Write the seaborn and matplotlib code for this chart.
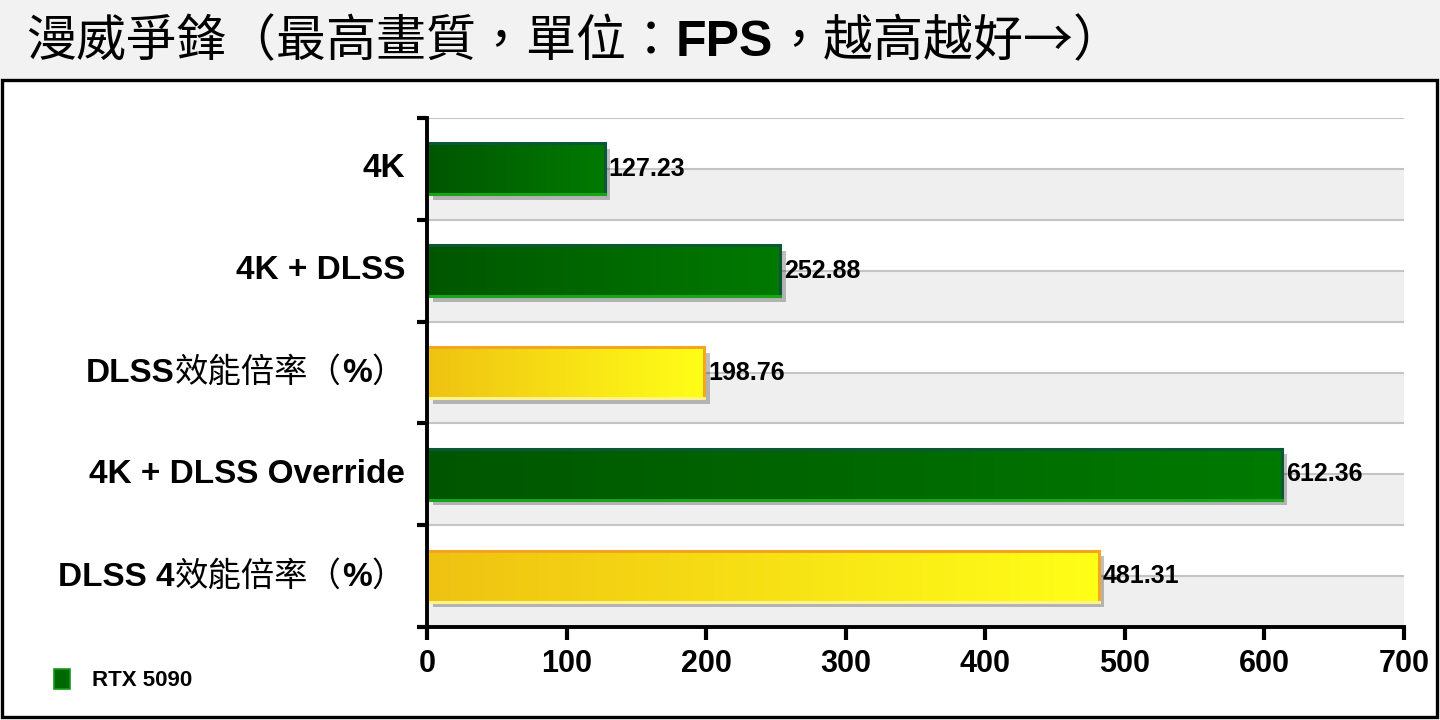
import matplotlib
matplotlib.use("Agg")
import matplotlib.pyplot as plt
import seaborn as sns
import numpy as np
import pandas as pd
from matplotlib.colors import LinearSegmentedColormap
from matplotlib.patches import Rectangle, Patch
from matplotlib.offsetbox import TextArea, HPacker, AnchoredOffsetbox
from matplotlib.transforms import blended_transform_factory
from matplotlib import patheffects as pe

# data
categories = ["4K", "4K + DLSS", "DLSS效能倍率（%）", "4K + DLSS Override", "DLSS 4效能倍率（%）"]
values = [127.23, 252.88, 198.76, 612.36, 481.31]
kinds = ["fps", "fps", "ratio", "fps", "ratio"]
x_ticks = [0, 100, 200, 300, 400, 500, 600, 700]
title = "漫威爭鋒（最高畫質，單位：FPS，越高越好→）"
legend_label = "RTX 5090"

sns.set_style("white")
CJK = ["Noto Sans CJK TC", "DejaVu Sans"]
LAT = ["Liberation Sans", "DejaVu Sans"]
plt.rcParams["font.family"] = LAT
plt.rcParams["text.color"] = "black"
plt.rcParams["xtick.color"] = "black"
plt.rcParams["ytick.color"] = "black"

# colours: gradient left/right, edge dark (top/right) and light (left/bottom)
grad_cols = {"fps": ("#005600", "#007a00"), "ratio": ("#efc212", "#ffff18")}
edge_cols = {"fps": ("#0c5836", "#18a418"), "ratio": ("#f4a620", "#fff38a")}


def runs(text):
    """split a string into latin / cjk pieces"""
    out = []
    for ch in text:
        lat = ord(ch) < 0x2000
        if out and out[-1][1] == lat:
            out[-1][0] += ch
        else:
            out.append([ch, lat])
    return out


def packed(text, size):
    areas = []
    for piece, lat in runs(text):
        props = dict(family=LAT if lat else CJK,
                     fontweight="bold" if lat else "normal",
                     fontsize=size, color="black")
        areas.append(TextArea(piece, textprops=props))
    return HPacker(children=areas, align="baseline", pad=0, sep=0)


df = pd.DataFrame({"setting": categories, "fps": values, "kind": kinds})

fig = plt.figure(figsize=(14.4, 7.2), dpi=100)
fig.patch.set_facecolor("white")

# title band and outer frame
fig.add_artist(Rectangle((0, 1 - 80 / 720), 1, 80 / 720, transform=fig.transFigure,
                         facecolor="#f2f2f2", edgecolor="none", zorder=0))
fig.add_artist(Rectangle((2 / 1440, 3 / 720), 1435 / 1440, 637 / 720,
                         transform=fig.transFigure, facecolor="none",
                         edgecolor="black", lw=2.4, zorder=1))
fig.add_artist(AnchoredOffsetbox(loc="center left", child=packed(title, 36),
                                 bbox_to_anchor=(26 / 1440, 1 - 42 / 720),
                                 bbox_transform=fig.transFigure,
                                 frameon=False, pad=0, borderpad=0))

ax = fig.add_axes([427 / 1440, 1 - 627 / 720, 977 / 1440, 509 / 720])
ax.set_facecolor("white")

sns.barplot(data=df, x="fps", y="setting", hue="kind",
            palette={"fps": "#006800", "ratio": "#f8dc10"},
            dodge=False, width=0.5, legend=False, ax=ax, zorder=2)

bars = list(ax.patches)
for p in bars:
    x0, y0, w, h = p.get_x(), p.get_y(), p.get_width(), p.get_height()
    if not np.isfinite(w) or w == 0:
        continue
    kind = kinds[int(round(y0 + h / 2))]
    cm = LinearSegmentedColormap.from_list(kind, grad_cols[kind])
    p.set_edgecolor("none")
    p.set_path_effects([pe.SimplePatchShadow(offset=(4, -4), shadow_rgbFace="#000000", alpha=0.25),
                        pe.Normal()])
    ax.imshow(np.linspace(0, 1, 256)[None, :], cmap=cm, aspect="auto",
              extent=(x0, x0 + w, y0 + h, y0), zorder=3, interpolation="bilinear")
    dark, light = edge_cols[kind]
    top, bot = y0, y0 + h
    ax.plot([x0, x0 + w], [top, top], color=dark, lw=2.2, zorder=4, solid_capstyle="projecting")
    ax.plot([x0 + w, x0 + w], [top, bot], color=dark, lw=2.2, zorder=4, solid_capstyle="projecting")
    ax.plot([x0, x0], [top, bot], color=light, lw=2.2, zorder=4, solid_capstyle="projecting")
    ax.plot([x0, x0 + w], [bot, bot], color=light, lw=2.2, zorder=4, solid_capstyle="projecting")

for c in ax.containers:
    ax.bar_label(c, fmt="%.2f", padding=3, fontsize=18, fontweight="bold",
                 family=LAT, color="black", zorder=6)

# row bands and grid lines
n = len(categories)
for i in range(n):
    ax.axhspan(i, i + 0.5, color="#efefef", lw=0, zorder=0)
    ax.axhline(i, color="#c4c4c4", lw=1.5, zorder=1)
for y in np.arange(-0.5, n, 1):
    ax.axhline(y, color="#c4c4c4", lw=1.5, zorder=1)

ax.set_xlim(0, 700)
ax.set_ylim(n - 0.5, -0.5)
ax.set_xticks(x_ticks)
ax.set_xlabel("")
ax.set_ylabel("")
ax.set_yticks(range(n))
ax.set_yticklabels([""] * n)
ax.set_yticks(np.arange(-0.5, n, 1), minor=True)
ax.tick_params(axis="y", which="both", left=True)
ax.tick_params(axis="y", which="major", length=0)
ax.tick_params(axis="y", which="minor", length=7.5, width=3, color="black", direction="out")
ax.tick_params(axis="x", which="major", bottom=True, length=9, width=3, color="black",
               direction="out", labelsize=22, labelcolor="black", pad=7)
for t in ax.get_xticklabels():
    t.set_fontweight("bold")
for s in ["top", "right"]:
    ax.spines[s].set_visible(False)
for s in ["left", "bottom"]:
    ax.spines[s].set_color("black")
    ax.spines[s].set_linewidth(2.8)
    ax.spines[s].set_zorder(7)

# category labels with bold latin and regular cjk
lab_tr = blended_transform_factory(fig.transFigure, ax.transData)
for i, name in enumerate(categories):
    ax.add_artist(AnchoredOffsetbox(loc="center right", child=packed(name, 24),
                                    bbox_to_anchor=(405 / 1440, i),
                                    bbox_transform=lab_tr,
                                    frameon=False, pad=0, borderpad=0))

# legend
handle = Patch(facecolor="#006800", edgecolor="#159a15", lw=1.2)
fig.legend([handle], [legend_label], loc="center left",
           bbox_to_anchor=(54 / 1440, 1 - 680 / 720),
           frameon=False, borderpad=0, borderaxespad=0,
           handlelength=0.7, handleheight=1.0, handletextpad=1.0,
           labelcolor="black",
           prop=dict(family=LAT, weight="bold", size=16))

fig.savefig("out.png", dpi=100)
